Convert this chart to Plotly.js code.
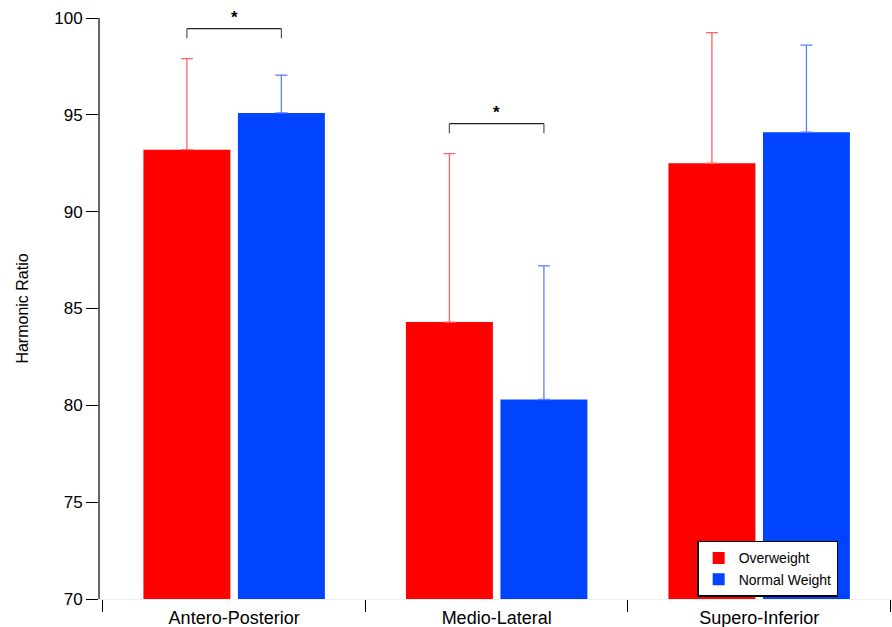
<!DOCTYPE html>
<html>
<head>
<meta charset="utf-8">
<script src="https://cdn.plot.ly/plotly-3.0.1.min.js"></script>
<style>html,body{margin:0;padding:0;background:#fff;}#chart{width:892px;height:627px;}</style>
</head>
<body>
<div id="chart"></div>
<script>
const categories = ["Antero-Posterior", "Medio-Lateral", "Supero-Inferior"];
const overweight = [93.2, 84.3, 92.5];
const overweightErr = [4.7, 8.7, 6.75];
const normalWeight = [95.1, 80.3, 94.1];
const normalWeightErr = [1.95, 6.9, 4.5];
const significant = [0, 1]; // category indices with significance bracket
const seriesNames = ["Overweight", "Normal Weight"];

const offset = 0.18;
const traces = [
  {type: "bar", name: seriesNames[0], x: categories, y: overweight,
   marker: {color: "#ff0000"},
   error_y: {type: "data", array: overweightErr, symmetric: false, arrayminus: overweightErr.map(() => 0),
             color: "#ff6464", thickness: 1.3, width: 6}},
  {type: "bar", name: seriesNames[1], x: categories, y: normalWeight,
   marker: {color: "#0044ff"},
   error_y: {type: "data", array: normalWeightErr, symmetric: false, arrayminus: normalWeightErr.map(() => 0),
             color: "#5a7cff", thickness: 1.3, width: 6}}
];

const shapes = [];
const annotations = [];
significant.forEach(i => {
  const top = Math.max(overweight[i] + overweightErr[i], normalWeight[i] + normalWeightErr[i]);
  const yb = top + 1.55;
  const ys = yb - 0.5;
  const x0 = i - offset, x1 = i + offset;
  shapes.push({type: "line", xref: "x", yref: "y", x0: x0, x1: x1, y0: yb, y1: yb, line: {color: "#222", width: 1.2}});
  shapes.push({type: "line", xref: "x", yref: "y", x0: x0, x1: x0, y0: yb, y1: ys, line: {color: "#555", width: 1.2}});
  shapes.push({type: "line", xref: "x", yref: "y", x0: x1, x1: x1, y0: yb, y1: ys, line: {color: "#555", width: 1.2}});
  annotations.push({xref: "x", yref: "y", x: i, y: yb, text: "<b>*</b>", showarrow: false, yanchor: "bottom", yshift: 0,
                    font: {family: "Liberation Sans, Arial", size: 17, color: "#000"}});
});

const layout = {
  width: 892, height: 627,
  margin: {l: 100, r: 0, t: 18, b: 28},
  paper_bgcolor: "#fff", plot_bgcolor: "#fff",
  font: {family: "Liberation Sans, Arial, sans-serif", color: "#000"},
  barmode: "group", bargap: 0.28, bargroupgap: 0.08,
  showlegend: true,
  legend: {x: 0.754, y: 0.1, xanchor: "left", yanchor: "top", bgcolor: "#fff",
           bordercolor: "#000", borderwidth: 1.5, font: {size: 14}, tracegroupgap: 0,
           itemwidth: 30},
  xaxis: {type: "category", range: [-0.511, 2.506], tickson: "boundaries", ticks: "outside", ticklen: 12,
          tickcolor: "#000", tickwidth: 1, showline: true, linecolor: "#eeeeee", linewidth: 1,
          showgrid: false, zeroline: false, tickfont: {size: 18}, ticklabelstandoff: 2, fixedrange: true},
  yaxis: {range: [70, 100], tickvals: [70, 75, 80, 85, 90, 95, 100], ticks: "outside", ticklen: 12,
          tickcolor: "#000", tickwidth: 1, showline: true, linecolor: "#666", linewidth: 2,
          showgrid: false, zeroline: false, tickfont: {size: 17},
          title: {text: "Harmonic Ratio", font: {size: 16}, standoff: 22}},
  shapes: shapes,
  annotations: annotations
};

Plotly.newPlot("chart", traces, layout, {displayModeBar: false, staticPlot: true});
</script>
</body>
</html>
